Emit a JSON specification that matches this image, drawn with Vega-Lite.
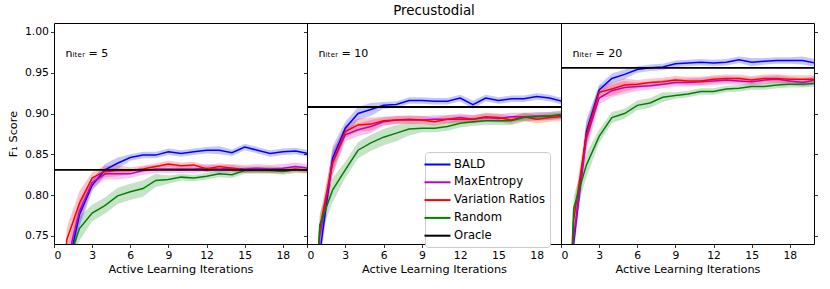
{
"$schema":"https://vega.github.io/schema/vega-lite/v6.json",
"padding":{"left":6,"top":3,"right":10,"bottom":4},
"spacing":0,
"bounds":"flush",
"resolve":{"scale":{"color":"independent"},"legend":{"color":"independent"}},
"datasets":{
"curves":[
{"p":5,"s":"BALD","x":0,"y":0.45,"lo":0.435,"hi":0.465},
{"p":5,"s":"BALD","x":1,"y":0.704,"lo":0.689,"hi":0.719},
{"p":5,"s":"BALD","x":2,"y":0.776,"lo":0.761,"hi":0.791},
{"p":5,"s":"BALD","x":3,"y":0.812,"lo":0.805,"hi":0.819},
{"p":5,"s":"BALD","x":4,"y":0.831,"lo":0.824,"hi":0.838},
{"p":5,"s":"BALD","x":5,"y":0.839,"lo":0.832,"hi":0.846},
{"p":5,"s":"BALD","x":6,"y":0.846,"lo":0.842,"hi":0.85},
{"p":5,"s":"BALD","x":7,"y":0.849,"lo":0.845,"hi":0.853},
{"p":5,"s":"BALD","x":8,"y":0.849,"lo":0.845,"hi":0.853},
{"p":5,"s":"BALD","x":9,"y":0.853,"lo":0.849,"hi":0.857},
{"p":5,"s":"BALD","x":10,"y":0.851,"lo":0.847,"hi":0.855},
{"p":5,"s":"BALD","x":11,"y":0.853,"lo":0.849,"hi":0.857},
{"p":5,"s":"BALD","x":12,"y":0.855,"lo":0.851,"hi":0.859},
{"p":5,"s":"BALD","x":13,"y":0.855,"lo":0.85,"hi":0.86},
{"p":5,"s":"BALD","x":14,"y":0.852,"lo":0.848,"hi":0.856},
{"p":5,"s":"BALD","x":15,"y":0.859,"lo":0.855,"hi":0.863},
{"p":5,"s":"BALD","x":16,"y":0.855,"lo":0.851,"hi":0.859},
{"p":5,"s":"BALD","x":17,"y":0.851,"lo":0.847,"hi":0.855},
{"p":5,"s":"BALD","x":18,"y":0.853,"lo":0.849,"hi":0.857},
{"p":5,"s":"BALD","x":19,"y":0.854,"lo":0.85,"hi":0.858},
{"p":5,"s":"BALD","x":20,"y":0.851,"lo":0.847,"hi":0.855},
{"p":5,"s":"MaxEntropy","x":0,"y":0.45,"lo":0.435,"hi":0.465},
{"p":5,"s":"MaxEntropy","x":1,"y":0.717,"lo":0.702,"hi":0.732},
{"p":5,"s":"MaxEntropy","x":2,"y":0.78,"lo":0.765,"hi":0.795},
{"p":5,"s":"MaxEntropy","x":3,"y":0.815,"lo":0.808,"hi":0.822},
{"p":5,"s":"MaxEntropy","x":4,"y":0.826,"lo":0.819,"hi":0.833},
{"p":5,"s":"MaxEntropy","x":5,"y":0.826,"lo":0.819,"hi":0.833},
{"p":5,"s":"MaxEntropy","x":6,"y":0.826,"lo":0.821,"hi":0.831},
{"p":5,"s":"MaxEntropy","x":7,"y":0.83,"lo":0.825,"hi":0.835},
{"p":5,"s":"MaxEntropy","x":8,"y":0.832,"lo":0.827,"hi":0.837},
{"p":5,"s":"MaxEntropy","x":9,"y":0.832,"lo":0.827,"hi":0.837},
{"p":5,"s":"MaxEntropy","x":10,"y":0.832,"lo":0.827,"hi":0.837},
{"p":5,"s":"MaxEntropy","x":11,"y":0.832,"lo":0.827,"hi":0.837},
{"p":5,"s":"MaxEntropy","x":12,"y":0.833,"lo":0.828,"hi":0.838},
{"p":5,"s":"MaxEntropy","x":13,"y":0.832,"lo":0.827,"hi":0.837},
{"p":5,"s":"MaxEntropy","x":14,"y":0.833,"lo":0.828,"hi":0.838},
{"p":5,"s":"MaxEntropy","x":15,"y":0.832,"lo":0.827,"hi":0.837},
{"p":5,"s":"MaxEntropy","x":16,"y":0.833,"lo":0.828,"hi":0.838},
{"p":5,"s":"MaxEntropy","x":17,"y":0.832,"lo":0.827,"hi":0.837},
{"p":5,"s":"MaxEntropy","x":18,"y":0.833,"lo":0.828,"hi":0.838},
{"p":5,"s":"MaxEntropy","x":19,"y":0.835,"lo":0.83,"hi":0.84},
{"p":5,"s":"MaxEntropy","x":20,"y":0.833,"lo":0.828,"hi":0.838},
{"p":5,"s":"Variation Ratios","x":0,"y":0.45,"lo":0.435,"hi":0.465},
{"p":5,"s":"Variation Ratios","x":1,"y":0.745,"lo":0.73,"hi":0.76},
{"p":5,"s":"Variation Ratios","x":2,"y":0.79,"lo":0.775,"hi":0.805},
{"p":5,"s":"Variation Ratios","x":3,"y":0.821,"lo":0.814,"hi":0.828},
{"p":5,"s":"Variation Ratios","x":4,"y":0.829,"lo":0.822,"hi":0.836},
{"p":5,"s":"Variation Ratios","x":5,"y":0.83,"lo":0.823,"hi":0.837},
{"p":5,"s":"Variation Ratios","x":6,"y":0.83,"lo":0.826,"hi":0.834},
{"p":5,"s":"Variation Ratios","x":7,"y":0.832,"lo":0.828,"hi":0.836},
{"p":5,"s":"Variation Ratios","x":8,"y":0.835,"lo":0.831,"hi":0.839},
{"p":5,"s":"Variation Ratios","x":9,"y":0.838,"lo":0.834,"hi":0.842},
{"p":5,"s":"Variation Ratios","x":10,"y":0.836,"lo":0.832,"hi":0.84},
{"p":5,"s":"Variation Ratios","x":11,"y":0.837,"lo":0.833,"hi":0.841},
{"p":5,"s":"Variation Ratios","x":12,"y":0.832,"lo":0.828,"hi":0.836},
{"p":5,"s":"Variation Ratios","x":13,"y":0.835,"lo":0.831,"hi":0.839},
{"p":5,"s":"Variation Ratios","x":14,"y":0.833,"lo":0.829,"hi":0.837},
{"p":5,"s":"Variation Ratios","x":15,"y":0.831,"lo":0.827,"hi":0.835},
{"p":5,"s":"Variation Ratios","x":16,"y":0.831,"lo":0.827,"hi":0.835},
{"p":5,"s":"Variation Ratios","x":17,"y":0.831,"lo":0.827,"hi":0.835},
{"p":5,"s":"Variation Ratios","x":18,"y":0.83,"lo":0.826,"hi":0.834},
{"p":5,"s":"Variation Ratios","x":19,"y":0.832,"lo":0.828,"hi":0.836},
{"p":5,"s":"Variation Ratios","x":20,"y":0.83,"lo":0.826,"hi":0.834},
{"p":5,"s":"Random","x":0,"y":0.45,"lo":0.435,"hi":0.465},
{"p":5,"s":"Random","x":1,"y":0.711,"lo":0.696,"hi":0.726},
{"p":5,"s":"Random","x":2,"y":0.759,"lo":0.744,"hi":0.774},
{"p":5,"s":"Random","x":3,"y":0.778,"lo":0.768,"hi":0.788},
{"p":5,"s":"Random","x":4,"y":0.787,"lo":0.777,"hi":0.797},
{"p":5,"s":"Random","x":5,"y":0.799,"lo":0.789,"hi":0.809},
{"p":5,"s":"Random","x":6,"y":0.804,"lo":0.794,"hi":0.814},
{"p":5,"s":"Random","x":7,"y":0.808,"lo":0.798,"hi":0.818},
{"p":5,"s":"Random","x":8,"y":0.818,"lo":0.81,"hi":0.826},
{"p":5,"s":"Random","x":9,"y":0.819,"lo":0.814,"hi":0.824},
{"p":5,"s":"Random","x":10,"y":0.822,"lo":0.818,"hi":0.826},
{"p":5,"s":"Random","x":11,"y":0.821,"lo":0.817,"hi":0.825},
{"p":5,"s":"Random","x":12,"y":0.823,"lo":0.819,"hi":0.827},
{"p":5,"s":"Random","x":13,"y":0.826,"lo":0.822,"hi":0.83},
{"p":5,"s":"Random","x":14,"y":0.825,"lo":0.821,"hi":0.829},
{"p":5,"s":"Random","x":15,"y":0.83,"lo":0.826,"hi":0.834},
{"p":5,"s":"Random","x":16,"y":0.83,"lo":0.826,"hi":0.834},
{"p":5,"s":"Random","x":17,"y":0.83,"lo":0.826,"hi":0.834},
{"p":5,"s":"Random","x":18,"y":0.829,"lo":0.825,"hi":0.833},
{"p":5,"s":"Random","x":19,"y":0.831,"lo":0.827,"hi":0.835},
{"p":5,"s":"Random","x":20,"y":0.831,"lo":0.827,"hi":0.835},
{"p":10,"s":"BALD","x":0,"y":0.45,"lo":0.435,"hi":0.465},
{"p":10,"s":"BALD","x":1,"y":0.728,"lo":0.713,"hi":0.743},
{"p":10,"s":"BALD","x":2,"y":0.845,"lo":0.83,"hi":0.86},
{"p":10,"s":"BALD","x":3,"y":0.882,"lo":0.874,"hi":0.89},
{"p":10,"s":"BALD","x":4,"y":0.9,"lo":0.892,"hi":0.908},
{"p":10,"s":"BALD","x":5,"y":0.905,"lo":0.897,"hi":0.913},
{"p":10,"s":"BALD","x":6,"y":0.91,"lo":0.906,"hi":0.914},
{"p":10,"s":"BALD","x":7,"y":0.911,"lo":0.907,"hi":0.915},
{"p":10,"s":"BALD","x":8,"y":0.916,"lo":0.912,"hi":0.92},
{"p":10,"s":"BALD","x":9,"y":0.916,"lo":0.912,"hi":0.92},
{"p":10,"s":"BALD","x":10,"y":0.915,"lo":0.911,"hi":0.919},
{"p":10,"s":"BALD","x":11,"y":0.915,"lo":0.911,"hi":0.919},
{"p":10,"s":"BALD","x":12,"y":0.919,"lo":0.915,"hi":0.923},
{"p":10,"s":"BALD","x":13,"y":0.911,"lo":0.906,"hi":0.916},
{"p":10,"s":"BALD","x":14,"y":0.919,"lo":0.915,"hi":0.923},
{"p":10,"s":"BALD","x":15,"y":0.916,"lo":0.912,"hi":0.92},
{"p":10,"s":"BALD","x":16,"y":0.918,"lo":0.914,"hi":0.922},
{"p":10,"s":"BALD","x":17,"y":0.918,"lo":0.914,"hi":0.922},
{"p":10,"s":"BALD","x":18,"y":0.921,"lo":0.917,"hi":0.925},
{"p":10,"s":"BALD","x":19,"y":0.919,"lo":0.915,"hi":0.923},
{"p":10,"s":"BALD","x":20,"y":0.915,"lo":0.911,"hi":0.919},
{"p":10,"s":"MaxEntropy","x":0,"y":0.45,"lo":0.435,"hi":0.465},
{"p":10,"s":"MaxEntropy","x":1,"y":0.75,"lo":0.735,"hi":0.765},
{"p":10,"s":"MaxEntropy","x":2,"y":0.84,"lo":0.825,"hi":0.855},
{"p":10,"s":"MaxEntropy","x":3,"y":0.874,"lo":0.866,"hi":0.882},
{"p":10,"s":"MaxEntropy","x":4,"y":0.88,"lo":0.872,"hi":0.888},
{"p":10,"s":"MaxEntropy","x":5,"y":0.884,"lo":0.876,"hi":0.892},
{"p":10,"s":"MaxEntropy","x":6,"y":0.89,"lo":0.885,"hi":0.895},
{"p":10,"s":"MaxEntropy","x":7,"y":0.892,"lo":0.887,"hi":0.897},
{"p":10,"s":"MaxEntropy","x":8,"y":0.893,"lo":0.888,"hi":0.898},
{"p":10,"s":"MaxEntropy","x":9,"y":0.892,"lo":0.887,"hi":0.897},
{"p":10,"s":"MaxEntropy","x":10,"y":0.893,"lo":0.888,"hi":0.898},
{"p":10,"s":"MaxEntropy","x":11,"y":0.893,"lo":0.888,"hi":0.898},
{"p":10,"s":"MaxEntropy","x":12,"y":0.895,"lo":0.89,"hi":0.9},
{"p":10,"s":"MaxEntropy","x":13,"y":0.893,"lo":0.888,"hi":0.898},
{"p":10,"s":"MaxEntropy","x":14,"y":0.895,"lo":0.89,"hi":0.9},
{"p":10,"s":"MaxEntropy","x":15,"y":0.894,"lo":0.889,"hi":0.899},
{"p":10,"s":"MaxEntropy","x":16,"y":0.896,"lo":0.891,"hi":0.901},
{"p":10,"s":"MaxEntropy","x":17,"y":0.896,"lo":0.891,"hi":0.901},
{"p":10,"s":"MaxEntropy","x":18,"y":0.897,"lo":0.892,"hi":0.902},
{"p":10,"s":"MaxEntropy","x":19,"y":0.897,"lo":0.892,"hi":0.902},
{"p":10,"s":"MaxEntropy","x":20,"y":0.898,"lo":0.893,"hi":0.903},
{"p":10,"s":"Variation Ratios","x":0,"y":0.45,"lo":0.435,"hi":0.465},
{"p":10,"s":"Variation Ratios","x":1,"y":0.759,"lo":0.744,"hi":0.774},
{"p":10,"s":"Variation Ratios","x":2,"y":0.839,"lo":0.824,"hi":0.854},
{"p":10,"s":"Variation Ratios","x":3,"y":0.878,"lo":0.87,"hi":0.886},
{"p":10,"s":"Variation Ratios","x":4,"y":0.886,"lo":0.878,"hi":0.894},
{"p":10,"s":"Variation Ratios","x":5,"y":0.887,"lo":0.879,"hi":0.895},
{"p":10,"s":"Variation Ratios","x":6,"y":0.891,"lo":0.886,"hi":0.896},
{"p":10,"s":"Variation Ratios","x":7,"y":0.892,"lo":0.887,"hi":0.897},
{"p":10,"s":"Variation Ratios","x":8,"y":0.892,"lo":0.887,"hi":0.897},
{"p":10,"s":"Variation Ratios","x":9,"y":0.892,"lo":0.887,"hi":0.897},
{"p":10,"s":"Variation Ratios","x":10,"y":0.89,"lo":0.885,"hi":0.895},
{"p":10,"s":"Variation Ratios","x":11,"y":0.893,"lo":0.888,"hi":0.898},
{"p":10,"s":"Variation Ratios","x":12,"y":0.893,"lo":0.888,"hi":0.898},
{"p":10,"s":"Variation Ratios","x":13,"y":0.893,"lo":0.888,"hi":0.898},
{"p":10,"s":"Variation Ratios","x":14,"y":0.896,"lo":0.891,"hi":0.901},
{"p":10,"s":"Variation Ratios","x":15,"y":0.895,"lo":0.89,"hi":0.9},
{"p":10,"s":"Variation Ratios","x":16,"y":0.892,"lo":0.887,"hi":0.897},
{"p":10,"s":"Variation Ratios","x":17,"y":0.896,"lo":0.891,"hi":0.901},
{"p":10,"s":"Variation Ratios","x":18,"y":0.893,"lo":0.888,"hi":0.898},
{"p":10,"s":"Variation Ratios","x":19,"y":0.895,"lo":0.89,"hi":0.9},
{"p":10,"s":"Variation Ratios","x":20,"y":0.896,"lo":0.891,"hi":0.901},
{"p":10,"s":"Random","x":0,"y":0.45,"lo":0.435,"hi":0.465},
{"p":10,"s":"Random","x":1,"y":0.763,"lo":0.748,"hi":0.778},
{"p":10,"s":"Random","x":2,"y":0.806,"lo":0.791,"hi":0.821},
{"p":10,"s":"Random","x":3,"y":0.831,"lo":0.821,"hi":0.841},
{"p":10,"s":"Random","x":4,"y":0.855,"lo":0.845,"hi":0.865},
{"p":10,"s":"Random","x":5,"y":0.864,"lo":0.854,"hi":0.874},
{"p":10,"s":"Random","x":6,"y":0.871,"lo":0.861,"hi":0.881},
{"p":10,"s":"Random","x":7,"y":0.876,"lo":0.866,"hi":0.886},
{"p":10,"s":"Random","x":8,"y":0.881,"lo":0.873,"hi":0.889},
{"p":10,"s":"Random","x":9,"y":0.882,"lo":0.877,"hi":0.887},
{"p":10,"s":"Random","x":10,"y":0.882,"lo":0.877,"hi":0.887},
{"p":10,"s":"Random","x":11,"y":0.884,"lo":0.879,"hi":0.889},
{"p":10,"s":"Random","x":12,"y":0.888,"lo":0.883,"hi":0.893},
{"p":10,"s":"Random","x":13,"y":0.89,"lo":0.885,"hi":0.895},
{"p":10,"s":"Random","x":14,"y":0.891,"lo":0.886,"hi":0.896},
{"p":10,"s":"Random","x":15,"y":0.891,"lo":0.886,"hi":0.896},
{"p":10,"s":"Random","x":16,"y":0.891,"lo":0.886,"hi":0.896},
{"p":10,"s":"Random","x":17,"y":0.895,"lo":0.89,"hi":0.9},
{"p":10,"s":"Random","x":18,"y":0.896,"lo":0.891,"hi":0.901},
{"p":10,"s":"Random","x":19,"y":0.897,"lo":0.892,"hi":0.902},
{"p":10,"s":"Random","x":20,"y":0.899,"lo":0.894,"hi":0.904},
{"p":20,"s":"BALD","x":0,"y":0.4,"lo":0.385,"hi":0.415},
{"p":20,"s":"BALD","x":1,"y":0.742,"lo":0.727,"hi":0.757},
{"p":20,"s":"BALD","x":2,"y":0.878,"lo":0.863,"hi":0.893},
{"p":20,"s":"BALD","x":3,"y":0.929,"lo":0.923,"hi":0.935},
{"p":20,"s":"BALD","x":4,"y":0.943,"lo":0.937,"hi":0.949},
{"p":20,"s":"BALD","x":5,"y":0.948,"lo":0.942,"hi":0.954},
{"p":20,"s":"BALD","x":6,"y":0.954,"lo":0.95,"hi":0.958},
{"p":20,"s":"BALD","x":7,"y":0.956,"lo":0.952,"hi":0.96},
{"p":20,"s":"BALD","x":8,"y":0.957,"lo":0.953,"hi":0.961},
{"p":20,"s":"BALD","x":9,"y":0.961,"lo":0.957,"hi":0.965},
{"p":20,"s":"BALD","x":10,"y":0.962,"lo":0.958,"hi":0.966},
{"p":20,"s":"BALD","x":11,"y":0.963,"lo":0.959,"hi":0.967},
{"p":20,"s":"BALD","x":12,"y":0.962,"lo":0.958,"hi":0.966},
{"p":20,"s":"BALD","x":13,"y":0.963,"lo":0.959,"hi":0.967},
{"p":20,"s":"BALD","x":14,"y":0.966,"lo":0.962,"hi":0.97},
{"p":20,"s":"BALD","x":15,"y":0.963,"lo":0.958,"hi":0.968},
{"p":20,"s":"BALD","x":16,"y":0.964,"lo":0.96,"hi":0.968},
{"p":20,"s":"BALD","x":17,"y":0.965,"lo":0.961,"hi":0.969},
{"p":20,"s":"BALD","x":18,"y":0.965,"lo":0.961,"hi":0.969},
{"p":20,"s":"BALD","x":19,"y":0.965,"lo":0.96,"hi":0.97},
{"p":20,"s":"BALD","x":20,"y":0.962,"lo":0.957,"hi":0.967},
{"p":20,"s":"MaxEntropy","x":0,"y":0.4,"lo":0.385,"hi":0.415},
{"p":20,"s":"MaxEntropy","x":1,"y":0.748,"lo":0.733,"hi":0.763},
{"p":20,"s":"MaxEntropy","x":2,"y":0.87,"lo":0.855,"hi":0.885},
{"p":20,"s":"MaxEntropy","x":3,"y":0.919,"lo":0.911,"hi":0.927},
{"p":20,"s":"MaxEntropy","x":4,"y":0.928,"lo":0.92,"hi":0.936},
{"p":20,"s":"MaxEntropy","x":5,"y":0.932,"lo":0.924,"hi":0.94},
{"p":20,"s":"MaxEntropy","x":6,"y":0.933,"lo":0.928,"hi":0.938},
{"p":20,"s":"MaxEntropy","x":7,"y":0.934,"lo":0.929,"hi":0.939},
{"p":20,"s":"MaxEntropy","x":8,"y":0.936,"lo":0.931,"hi":0.941},
{"p":20,"s":"MaxEntropy","x":9,"y":0.938,"lo":0.933,"hi":0.943},
{"p":20,"s":"MaxEntropy","x":10,"y":0.938,"lo":0.933,"hi":0.943},
{"p":20,"s":"MaxEntropy","x":11,"y":0.939,"lo":0.934,"hi":0.944},
{"p":20,"s":"MaxEntropy","x":12,"y":0.94,"lo":0.935,"hi":0.945},
{"p":20,"s":"MaxEntropy","x":13,"y":0.941,"lo":0.936,"hi":0.946},
{"p":20,"s":"MaxEntropy","x":14,"y":0.94,"lo":0.935,"hi":0.945},
{"p":20,"s":"MaxEntropy","x":15,"y":0.939,"lo":0.934,"hi":0.944},
{"p":20,"s":"MaxEntropy","x":16,"y":0.941,"lo":0.936,"hi":0.946},
{"p":20,"s":"MaxEntropy","x":17,"y":0.942,"lo":0.937,"hi":0.947},
{"p":20,"s":"MaxEntropy","x":18,"y":0.94,"lo":0.935,"hi":0.945},
{"p":20,"s":"MaxEntropy","x":19,"y":0.938,"lo":0.933,"hi":0.943},
{"p":20,"s":"MaxEntropy","x":20,"y":0.941,"lo":0.936,"hi":0.946},
{"p":20,"s":"Variation Ratios","x":0,"y":0.4,"lo":0.385,"hi":0.415},
{"p":20,"s":"Variation Ratios","x":1,"y":0.77,"lo":0.755,"hi":0.785},
{"p":20,"s":"Variation Ratios","x":2,"y":0.874,"lo":0.859,"hi":0.889},
{"p":20,"s":"Variation Ratios","x":3,"y":0.926,"lo":0.918,"hi":0.934},
{"p":20,"s":"Variation Ratios","x":4,"y":0.93,"lo":0.922,"hi":0.938},
{"p":20,"s":"Variation Ratios","x":5,"y":0.935,"lo":0.927,"hi":0.943},
{"p":20,"s":"Variation Ratios","x":6,"y":0.936,"lo":0.931,"hi":0.941},
{"p":20,"s":"Variation Ratios","x":7,"y":0.938,"lo":0.933,"hi":0.943},
{"p":20,"s":"Variation Ratios","x":8,"y":0.939,"lo":0.934,"hi":0.944},
{"p":20,"s":"Variation Ratios","x":9,"y":0.941,"lo":0.936,"hi":0.946},
{"p":20,"s":"Variation Ratios","x":10,"y":0.94,"lo":0.935,"hi":0.945},
{"p":20,"s":"Variation Ratios","x":11,"y":0.94,"lo":0.935,"hi":0.945},
{"p":20,"s":"Variation Ratios","x":12,"y":0.942,"lo":0.937,"hi":0.947},
{"p":20,"s":"Variation Ratios","x":13,"y":0.943,"lo":0.938,"hi":0.948},
{"p":20,"s":"Variation Ratios","x":14,"y":0.943,"lo":0.938,"hi":0.948},
{"p":20,"s":"Variation Ratios","x":15,"y":0.941,"lo":0.936,"hi":0.946},
{"p":20,"s":"Variation Ratios","x":16,"y":0.943,"lo":0.938,"hi":0.948},
{"p":20,"s":"Variation Ratios","x":17,"y":0.943,"lo":0.938,"hi":0.948},
{"p":20,"s":"Variation Ratios","x":18,"y":0.942,"lo":0.937,"hi":0.947},
{"p":20,"s":"Variation Ratios","x":19,"y":0.942,"lo":0.937,"hi":0.947},
{"p":20,"s":"Variation Ratios","x":20,"y":0.942,"lo":0.937,"hi":0.947},
{"p":20,"s":"Random","x":0,"y":0.4,"lo":0.385,"hi":0.415},
{"p":20,"s":"Random","x":1,"y":0.784,"lo":0.769,"hi":0.799},
{"p":20,"s":"Random","x":2,"y":0.837,"lo":0.822,"hi":0.852},
{"p":20,"s":"Random","x":3,"y":0.872,"lo":0.864,"hi":0.88},
{"p":20,"s":"Random","x":4,"y":0.895,"lo":0.888,"hi":0.902},
{"p":20,"s":"Random","x":5,"y":0.9,"lo":0.894,"hi":0.906},
{"p":20,"s":"Random","x":6,"y":0.91,"lo":0.904,"hi":0.916},
{"p":20,"s":"Random","x":7,"y":0.913,"lo":0.907,"hi":0.919},
{"p":20,"s":"Random","x":8,"y":0.92,"lo":0.914,"hi":0.926},
{"p":20,"s":"Random","x":9,"y":0.922,"lo":0.918,"hi":0.926},
{"p":20,"s":"Random","x":10,"y":0.924,"lo":0.92,"hi":0.928},
{"p":20,"s":"Random","x":11,"y":0.927,"lo":0.923,"hi":0.931},
{"p":20,"s":"Random","x":12,"y":0.927,"lo":0.923,"hi":0.931},
{"p":20,"s":"Random","x":13,"y":0.93,"lo":0.926,"hi":0.934},
{"p":20,"s":"Random","x":14,"y":0.931,"lo":0.927,"hi":0.935},
{"p":20,"s":"Random","x":15,"y":0.933,"lo":0.929,"hi":0.937},
{"p":20,"s":"Random","x":16,"y":0.933,"lo":0.929,"hi":0.937},
{"p":20,"s":"Random","x":17,"y":0.935,"lo":0.931,"hi":0.939},
{"p":20,"s":"Random","x":18,"y":0.936,"lo":0.932,"hi":0.94},
{"p":20,"s":"Random","x":19,"y":0.936,"lo":0.932,"hi":0.94},
{"p":20,"s":"Random","x":20,"y":0.937,"lo":0.933,"hi":0.941}
],
"oracle":[
{"p":5,"s":"Oracle","y":0.831},
{"p":10,"s":"Oracle","y":0.908},
{"p":20,"s":"Oracle","y":0.956}
],
"labels":[
{"p":5,"label":"nᵢₜₑᵣ = 5","x":0.9,"y":0.973},
{"p":10,"label":"nᵢₜₑᵣ = 10","x":0.9,"y":0.973},
{"p":20,"label":"nᵢₜₑᵣ = 20","x":0.9,"y":0.973}
]
},
"hconcat":[
{
"width":253,"height":221,
"layer":[
{"data":{"name":"curves"},"transform":[{"filter":"datum.p == 5"}],
 "mark":{"type":"area","opacity":0.22,"clip":true},
 "encoding":{
  "x":{"field":"x","type":"quantitative","scale":{"domain":[0,19.9],"nice":false,"zero":false},"axis":{"values":[0,3,6,9,12,15,18],"title":"Active Learning Iterations"}},
  "y":{"field":"lo","type":"quantitative","scale":{"domain":[0.74,1.011],"nice":false,"zero":false},"axis":{"values":[0.75,0.8,0.85,0.9,0.95,1.0],"format":".2f","title":"F₁ Score"}},
  "y2":{"field":"hi"},
  "fill":{"field":"s","type":"nominal","scale":{"domain":["BALD","MaxEntropy","Variation Ratios","Random"],"range":["#0000ff","#bf00bf","#ff0000","#008000"]},"legend":null}}},
{"data":{"name":"curves"},"transform":[{"filter":"datum.p == 5"}],
 "mark":{"type":"line","strokeWidth":1.5,"clip":true},
 "encoding":{
  "x":{"field":"x","type":"quantitative"},
  "y":{"field":"y","type":"quantitative"},
  "color":{"field":"s","type":"nominal","scale":{"domain":["BALD","MaxEntropy","Variation Ratios","Random","Oracle"],"range":["#0000ff","#bf00bf","#ff0000","#008000","#000000"]},"legend":null}}},
{"data":{"name":"oracle"},"transform":[{"filter":"datum.p == 5"}],
 "mark":{"type":"rule","strokeWidth":1.8},
 "encoding":{
  "y":{"field":"y","type":"quantitative"},
  "color":{"field":"s","type":"nominal","legend":null}}},
{"data":{"name":"labels"},"transform":[{"filter":"datum.p == 5"}],
 "mark":{"type":"text","align":"left","baseline":"middle","fontSize":11,"font":"DejaVu Sans"},
 "encoding":{
  "x":{"field":"x","type":"quantitative"},
  "y":{"field":"y","type":"quantitative"},
  "text":{"field":"label"}}}
]
},
{
"width":254,"height":221,
"title":{"text":"Precustodial","fontSize":13.4,"fontWeight":"normal","font":"DejaVu Sans","color":"black","offset":6},
"layer":[
{"data":{"name":"curves"},"transform":[{"filter":"datum.p == 10"}],
 "mark":{"type":"area","opacity":0.22,"clip":true},
 "encoding":{
  "x":{"field":"x","type":"quantitative","scale":{"domain":[0,19.9],"nice":false,"zero":false},"axis":{"values":[0,3,6,9,12,15,18],"title":"Active Learning Iterations"}},
  "y":{"field":"lo","type":"quantitative","scale":{"domain":[0.74,1.011],"nice":false,"zero":false},"axis":{"values":[0.75,0.8,0.85,0.9,0.95,1.0],"labels":false,"title":null}},
  "y2":{"field":"hi"},
  "fill":{"field":"s","type":"nominal","scale":{"domain":["BALD","MaxEntropy","Variation Ratios","Random"],"range":["#0000ff","#bf00bf","#ff0000","#008000"]},"legend":null}}},
{"data":{"name":"curves"},"transform":[{"filter":"datum.p == 10"}],
 "mark":{"type":"line","strokeWidth":1.5,"clip":true},
 "encoding":{
  "x":{"field":"x","type":"quantitative"},
  "y":{"field":"y","type":"quantitative"},
  "color":{"field":"s","type":"nominal","scale":{"domain":["BALD","MaxEntropy","Variation Ratios","Random","Oracle"],"range":["#0000ff","#bf00bf","#ff0000","#008000","#000000"]},"legend":{"orient":"none","legendX":118,"legendY":129,"title":null}}}},
{"data":{"name":"oracle"},"transform":[{"filter":"datum.p == 10"}],
 "mark":{"type":"rule","strokeWidth":1.8},
 "encoding":{
  "y":{"field":"y","type":"quantitative"},
  "color":{"field":"s","type":"nominal"}}},
{"data":{"name":"labels"},"transform":[{"filter":"datum.p == 10"}],
 "mark":{"type":"text","align":"left","baseline":"middle","fontSize":11,"font":"DejaVu Sans"},
 "encoding":{
  "x":{"field":"x","type":"quantitative"},
  "y":{"field":"y","type":"quantitative"},
  "text":{"field":"label"}}}
]
},
{
"width":253,"height":221,
"layer":[
{"data":{"name":"curves"},"transform":[{"filter":"datum.p == 20"}],
 "mark":{"type":"area","opacity":0.22,"clip":true},
 "encoding":{
  "x":{"field":"x","type":"quantitative","scale":{"domain":[0,19.9],"nice":false,"zero":false},"axis":{"values":[0,3,6,9,12,15,18],"title":"Active Learning Iterations"}},
  "y":{"field":"lo","type":"quantitative","scale":{"domain":[0.74,1.011],"nice":false,"zero":false},"axis":{"values":[0.75,0.8,0.85,0.9,0.95,1.0],"labels":false,"title":null}},
  "y2":{"field":"hi"},
  "fill":{"field":"s","type":"nominal","scale":{"domain":["BALD","MaxEntropy","Variation Ratios","Random"],"range":["#0000ff","#bf00bf","#ff0000","#008000"]},"legend":null}}},
{"data":{"name":"curves"},"transform":[{"filter":"datum.p == 20"}],
 "mark":{"type":"line","strokeWidth":1.5,"clip":true},
 "encoding":{
  "x":{"field":"x","type":"quantitative"},
  "y":{"field":"y","type":"quantitative"},
  "color":{"field":"s","type":"nominal","scale":{"domain":["BALD","MaxEntropy","Variation Ratios","Random","Oracle"],"range":["#0000ff","#bf00bf","#ff0000","#008000","#000000"]},"legend":null}}},
{"data":{"name":"oracle"},"transform":[{"filter":"datum.p == 20"}],
 "mark":{"type":"rule","strokeWidth":1.8},
 "encoding":{
  "y":{"field":"y","type":"quantitative","axis":{"orient":"right","values":[0.75,0.8,0.85,0.9,0.95,1.0],"labels":false,"title":null}},
  "color":{"field":"s","type":"nominal","legend":null}}},
{"data":{"name":"labels"},"transform":[{"filter":"datum.p == 20"}],
 "mark":{"type":"text","align":"left","baseline":"middle","fontSize":11,"font":"DejaVu Sans"},
 "encoding":{
  "x":{"field":"x","type":"quantitative"},
  "y":{"field":"y","type":"quantitative"},
  "text":{"field":"label"}}}
]
}
],
"config":{
 "font":"DejaVu Sans",
 "view":{"stroke":"black","strokeWidth":1},
 "axis":{"grid":false,"domain":false,"tickColor":"black","tickSize":3.5,"tickWidth":0.8,"labelFontSize":10.8,"labelColor":"black","labelPadding":2,"titleFontSize":11.3,"titleFontWeight":"normal","titleColor":"black","labelFont":"DejaVu Sans","titleFont":"DejaVu Sans"},
 "axisY":{"titlePadding":6},
 "axisX":{"titlePadding":3},
 "legend":{"symbolType":"M-2,0H2","symbolStrokeWidth":2,"symbolSize":169,"labelFontSize":11.6,"labelColor":"black","labelFont":"DejaVu Sans","padding":5,"rowPadding":3.8,"labelOffset":9,"cornerRadius":3,"strokeColor":"#cccccc","fillColor":"#ffffff"}
}
}
